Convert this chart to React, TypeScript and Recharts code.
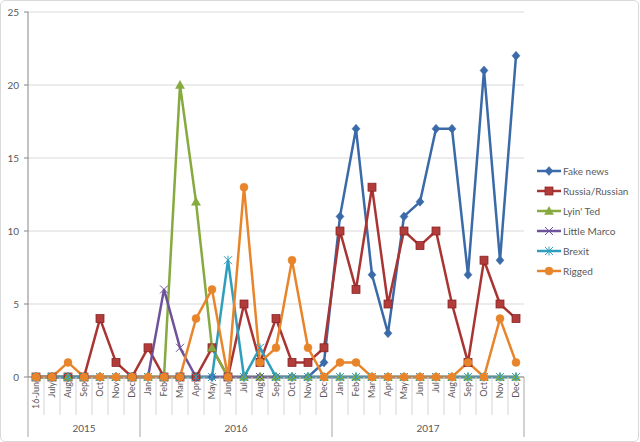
import React from 'react';
import { LineChart, Line, XAxis, YAxis, CartesianGrid, Legend } from 'recharts';

const months = ['16-Jun', 'July', 'Aug', 'Sep', 'Oct', 'Nov', 'Dec',
  'Jan', 'Feb', 'Mar', 'Apr', 'May', 'Jun', 'Jul', 'Aug', 'Sep', 'Oct', 'Nov', 'Dec',
  'Jan', 'Feb', 'Mar', 'Apr', 'May', 'Jun', 'Jul', 'Aug', 'Sep', 'Oct', 'Nov', 'Dec'];
const years = ['2015', '2015', '2015', '2015', '2015', '2015', '2015',
  '2016', '2016', '2016', '2016', '2016', '2016', '2016', '2016', '2016', '2016', '2016', '2016',
  '2017', '2017', '2017', '2017', '2017', '2017', '2017', '2017', '2017', '2017', '2017', '2017'];

const fakeNews = [0, 0, 0, 0, 0, 0, 0, 0, 0, 0, 0, 0, 0, 0, 0, 0, 0, 0, 1,
  11, 17, 7, 3, 11, 12, 17, 17, 7, 21, 8, 22];
const russia = [0, 0, 0, 0, 4, 1, 0, 2, 0, 0, 0, 2, 0, 5, 1, 4, 1, 1, 2,
  10, 6, 13, 5, 10, 9, 10, 5, 1, 8, 5, 4];
const lyinTed = [0, 0, 0, 0, 0, 0, 0, 0, 0, 20, 12, 2, 0, 0, 0, 0, 0, 0, 0,
  0, 0, 0, 0, 0, 0, 0, 0, 0, 0, 0, 0];
const littleMarco = [0, 0, 0, 0, 0, 0, 0, 0, 6, 2, 0, 0, 0, 0, 0, 0, 0, 0, 0,
  0, 0, 0, 0, 0, 0, 0, 0, 0, 0, 0, 0];
const brexit = [0, 0, 0, 0, 0, 0, 0, 0, 0, 0, 0, 0, 8, 0, 2, 0, 0, 0, 0,
  0, 0, 0, 0, 0, 0, 0, 0, 0, 0, 0, 0];
const rigged = [0, 0, 1, 0, 0, 0, 0, 0, 0, 0, 4, 6, 0, 13, 1, 2, 8, 2, 0,
  1, 1, 0, 0, 0, 0, 0, 0, 1, 0, 4, 1];

const yTicks = [0, 5, 10, 15, 20, 25];

const series = [
  { key: 'fakeNews', name: 'Fake news', color: '#3a6aa8', shape: 'diamond', values: fakeNews },
  { key: 'russia', name: 'Russia/Russian', color: '#a93533', shape: 'square', values: russia },
  { key: 'lyinTed', name: "Lyin' Ted", color: '#86aa3f', shape: 'triangle', values: lyinTed },
  { key: 'littleMarco', name: 'Little Marco', color: '#6f539a', shape: 'x', values: littleMarco },
  { key: 'brexit', name: 'Brexit', color: '#2f9ebd', shape: 'star', values: brexit },
  { key: 'rigged', name: 'Rigged', color: '#e8852b', shape: 'circle', values: rigged },
];

const data = months.map((m, i) => {
  const row: any = { key: years[i] + '-' + m + '-' + i, month: m, year: years[i] };
  series.forEach((s) => { row[s.key] = s.values[i]; });
  return row;
});

const W = 640;
const H = 442;
const MARGIN = { top: 12, right: 116, bottom: 5, left: 0 };
const Y_W = 28;
const X_H = 60;
const PLOT_W = W - MARGIN.left - MARGIN.right - Y_W;
const STEP = PLOT_W / months.length;
const FONT = 'Lato, "Open Sans", sans-serif';
const TEXT = '#595959';

const Marker = ({ shape, cx, cy, color }: any) => {
  if (cx == null || cy == null) return null;
  switch (shape) {
    case 'diamond':
      return <polygon points={`${cx},${cy - 4.5} ${cx + 4},${cy} ${cx},${cy + 4.5} ${cx - 4},${cy}`} fill={color} stroke={color} strokeWidth={0.5} />;
    case 'square':
      return <rect x={cx - 4} y={cy - 4} width={8} height={8} fill="#b03d3b" stroke="#8a2020" strokeWidth={0.75} />;
    case 'triangle':
      return <polygon points={`${cx},${cy - 4.5} ${cx + 4.5},${cy + 3.5} ${cx - 4.5},${cy + 3.5}`} fill={color} stroke={color} strokeWidth={0.5} />;
    case 'x':
      return (
        <g stroke={color} strokeWidth={1}>
          <line x1={cx - 4} y1={cy - 4} x2={cx + 4} y2={cy + 4} />
          <line x1={cx - 4} y1={cy + 4} x2={cx + 4} y2={cy - 4} />
        </g>
      );
    case 'star':
      return (
        <g stroke={color} strokeWidth={1}>
          <line x1={cx - 4} y1={cy - 4} x2={cx + 4} y2={cy + 4} />
          <line x1={cx - 4} y1={cy + 4} x2={cx + 4} y2={cy - 4} />
          <line x1={cx} y1={cy - 4.5} x2={cx} y2={cy + 4.5} />
        </g>
      );
    case 'circle':
    default:
      return <circle cx={cx} cy={cy} r={4} fill={color} stroke={color} strokeWidth={0.5} />;
  }
};

const MonthTick = (props: any) => {
  const { x, y, payload } = props;
  const i = props.index != null ? props.index : payload.index;
  const left = x - STEP / 2;
  const right = x + STEP / 2;
  const groupStart = i === 0 || years[i] !== years[i - 1];
  const isLast = i === months.length - 1;
  let start = i;
  while (start > 0 && years[start - 1] === years[i]) start--;
  let end = i;
  while (end < years.length - 1 && years[end + 1] === years[i]) end++;
  const center = x + ((start + end) / 2 - i) * STEP;
  return (
    <g>
      <line x1={left} x2={left} y1={y} y2={groupStart ? y + 60 : y + 38}
        stroke={groupStart ? '#a6a6a6' : '#d4d4d4'} strokeWidth={1} />
      {isLast && <line x1={right} x2={right} y1={y} y2={y + 60} stroke="#a6a6a6" strokeWidth={1} />}
      <text transform={`translate(${x},${y + 5}) rotate(-90)`} textAnchor="end" dy="0.33em"
        fontSize={9} fill={TEXT} fontFamily={FONT}>{months[i]}</text>
      {i === start && (
        <text x={center} y={y + 51} textAnchor="middle" dy="0.35em" fontSize={10}
          fill={TEXT} fontFamily={FONT}>{years[i]}</text>
      )}
    </g>
  );
};

const renderLegend = (props: any) => {
  const payload = props.payload || [];
  return (
    <div style={{ fontFamily: FONT, fontSize: 10, color: TEXT }}>
      {series.map((s) => {
        const p = payload.find((q: any) => q.dataKey === s.key);
        return (
          <div key={s.key} style={{ height: 20, display: 'flex', alignItems: 'center' }}>
            <svg width={26} height={12} style={{ display: 'block' }}>
              <line x1={1} x2={25} y1={6} y2={6} stroke={s.color} strokeWidth={2.5} />
              <Marker shape={s.shape} cx={13} cy={6} color={s.color} />
            </svg>
            <span style={{ marginLeft: 1, whiteSpace: 'nowrap' }}>{p ? p.value : s.name}</span>
          </div>
        );
      })}
    </div>
  );
};

export default function App() {
  return (
    <div style={{ position: 'relative', width: W, height: H, background: '#fff' }}>
      <style>{'body{margin:0;background:#fff;}'}</style>
      <LineChart width={W} height={H} data={data} margin={MARGIN}>
        <CartesianGrid vertical={false} stroke="#d9d9d9" strokeWidth={1} />
        <XAxis dataKey="key" interval={0} height={X_H} tickSize={0} tickMargin={0}
          tick={<MonthTick />} axisLine={{ stroke: '#868686' }} tickLine={false}
          padding={{ left: STEP / 2, right: STEP / 2 }} />
        <YAxis width={Y_W} domain={[0, 25]} ticks={yTicks} interval={0} tickSize={4} tickMargin={5}
          axisLine={{ stroke: '#868686' }} tickLine={{ stroke: '#868686' }}
          tick={{ fill: TEXT, fontSize: 10, fontFamily: FONT }} />
        <Legend layout="vertical" align="center" verticalAlign="middle" content={renderLegend}
          wrapperStyle={{ left: 536, top: 161, width: 104 }} />
        {series.map((s) => (
          <Line key={s.key} dataKey={s.key} name={s.name} type="linear" stroke={s.color}
            strokeWidth={2.5} isAnimationActive={false} activeDot={false}
            dot={(p: any) => <Marker key={s.key + '-' + p.index} shape={s.shape} cx={p.cx} cy={p.cy} color={s.color} />} />
        ))}
      </LineChart>
      <div style={{ position: 'absolute', left: 0, top: 0, width: W - 3, height: H - 2, border: '1px solid #d9d9d9', borderRadius: 5, pointerEvents: 'none' }} />
    </div>
  );
}
